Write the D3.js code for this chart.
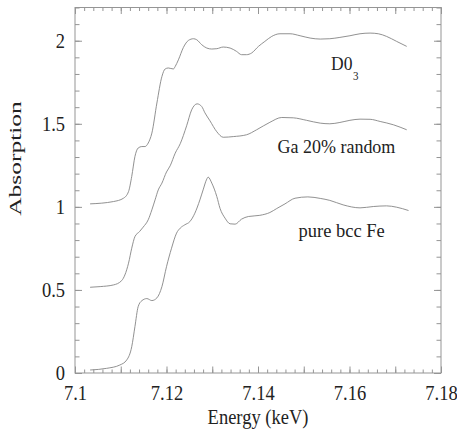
<!DOCTYPE html>
<html>
<head>
<meta charset="utf-8">
<script src="https://cdn.jsdelivr.net/npm/d3@7"></script>
<style>
  html, body { margin: 0; padding: 0; background: #fff; }
  svg { display: block; }
</style>
</head>
<body>
<svg id="chart" width="457" height="430"></svg>
<script>
// ==== DATA ====
const energyD03 = [7.1033, 7.1084, 7.1106, 7.1117, 7.1124, 7.1131, 7.1138, 7.1146, 7.1153, 7.1160,
  7.1168, 7.1179, 7.1190, 7.1197, 7.1204, 7.1215, 7.1219, 7.1226, 7.1237, 7.1248,
  7.1259, 7.1266, 7.1277, 7.1288, 7.1299, 7.1310, 7.1324, 7.1339, 7.1353, 7.1364,
  7.1375, 7.1386, 7.1401, 7.1415, 7.1430, 7.1448, 7.1470, 7.1492, 7.1514, 7.1536,
  7.1557, 7.1579, 7.1601, 7.1623, 7.1645, 7.1663, 7.1681, 7.1703, 7.1725];
const absD03 = [1.018, 1.032, 1.052, 1.092, 1.183, 1.303, 1.354, 1.363, 1.363, 1.384,
  1.444, 1.625, 1.785, 1.830, 1.836, 1.830, 1.845, 1.885, 1.960, 2.002,
  2.012, 2.006, 1.976, 1.956, 1.950, 1.952, 1.962, 1.956, 1.936, 1.916,
  1.916, 1.926, 1.966, 1.996, 2.026, 2.042, 2.042, 2.030, 2.016, 2.010,
  2.012, 2.020, 2.030, 2.042, 2.046, 2.042, 2.026, 1.996, 1.966];

const energyGa = [7.1033, 7.1055, 7.1084, 7.1102, 7.1109, 7.1117, 7.1124, 7.1131, 7.1141, 7.1149,
  7.1160, 7.1168, 7.1175, 7.1182, 7.1190, 7.1200, 7.1208, 7.1219, 7.1230, 7.1244,
  7.1255, 7.1267, 7.1277, 7.1284, 7.1295, 7.1310, 7.1324, 7.1346, 7.1375, 7.1397,
  7.1426, 7.1452, 7.1477, 7.1506, 7.1536, 7.1557, 7.1579, 7.1601, 7.1623, 7.1645,
  7.1667, 7.1696, 7.1725];
const absGa = [0.516, 0.520, 0.530, 0.556, 0.590, 0.661, 0.751, 0.821, 0.851, 0.878,
  0.922, 0.982, 1.042, 1.102, 1.143, 1.210, 1.247, 1.323, 1.380, 1.488,
  1.584, 1.620, 1.604, 1.566, 1.518, 1.452, 1.419, 1.423, 1.434, 1.464,
  1.509, 1.538, 1.536, 1.521, 1.504, 1.500, 1.508, 1.521, 1.528, 1.527,
  1.514, 1.494, 1.464];

const energyFe = [7.1033, 7.1069, 7.1098, 7.1113, 7.1124, 7.1131, 7.1138, 7.1146, 7.1157, 7.1168,
  7.1179, 7.1190, 7.1200, 7.1211, 7.1222, 7.1230, 7.1240, 7.1251, 7.1262, 7.1273,
  7.1280, 7.1288, 7.1291, 7.1299, 7.1310, 7.1317, 7.1328, 7.1339, 7.1350, 7.1364,
  7.1379, 7.1404, 7.1426, 7.1441, 7.1459, 7.1481, 7.1509, 7.1536, 7.1557, 7.1586,
  7.1623, 7.1652, 7.1681, 7.1703, 7.1729];
const absFe = [0.018, 0.028, 0.048, 0.078, 0.158, 0.279, 0.399, 0.435, 0.448, 0.436,
  0.452, 0.520, 0.640, 0.751, 0.842, 0.872, 0.892, 0.911, 0.962, 1.042,
  1.102, 1.167, 1.179, 1.143, 1.062, 0.991, 0.932, 0.898, 0.896, 0.926,
  0.942, 0.949, 0.966, 0.990, 1.018, 1.052, 1.060, 1.051, 1.039, 1.012,
  0.994, 1.002, 1.006, 0.998, 0.978];

const xTickLabels = [7.1, 7.12, 7.14, 7.16, 7.18];
const yTickLabels = [0, 0.5, 1, 1.5, 2];

// ==== LAYOUT ====
const FONT = '"Liberation Serif", "Times New Roman", serif';
const AXIS_COLOR = "#959595";
const LINE_COLOR = "#858585";
const TEXT_COLOR = "#222";
const TICK_FS = 18.5;   // tick label font size
const TICK_K = 1.15;    // the picture is a bit stretched vertically

const svg = d3.select("#chart");

const x = d3.scaleLinear().domain([7.1, 7.18]).range([75, 441]);
const y = d3.scaleLinear().domain([0, 2.2]).range([373, 7.5]);

const [x0, x1] = x.range();
const [y0, y1] = y.range();

// frame
svg.append("rect")
  .attr("x", x0).attr("y", y1)
  .attr("width", x1 - x0).attr("height", y0 - y1)
  .attr("fill", "none")
  .attr("stroke", AXIS_COLOR)
  .attr("stroke-width", 1);

function drawTicks(axisFn, scale, values, size, transform) {
  svg.append("g")
    .attr("transform", transform)
    .call(axisFn(scale).tickValues(values).tickSize(size).tickFormat(""))
    .call(g => g.select(".domain").remove())
    .call(g => g.selectAll("line").attr("stroke", AXIS_COLOR));
}

const xMinor = x.ticks(40), xMajor = x.ticks(8);
const yMinor = y.ticks(22), yMajor = y.ticks(4);

drawTicks(d3.axisBottom, x, xMinor, -3.5, `translate(0,${y0})`);
drawTicks(d3.axisBottom, x, xMajor, -6.5, `translate(0,${y0})`);
drawTicks(d3.axisTop, x, xMinor, -3.5, `translate(0,${y1})`);
drawTicks(d3.axisTop, x, xMajor, -6.5, `translate(0,${y1})`);
drawTicks(d3.axisLeft, y, yMinor, -4.5, `translate(${x0},0)`);
drawTicks(d3.axisLeft, y, yMajor, -7, `translate(${x0},0)`);
drawTicks(d3.axisRight, y, yMinor, -4.5, `translate(${x1},0)`);
drawTicks(d3.axisRight, y, yMajor, -7, `translate(${x1},0)`);

// tick labels
svg.append("g")
  .attr("transform", `translate(0,${y0})`)
  .call(d3.axisBottom(x).tickValues(xTickLabels).tickSize(0).tickFormat(d => String(d)))
  .call(g => g.select(".domain").remove())
  .call(g => g.selectAll("text")
    .style("font-family", FONT)
    .attr("font-size", TICK_FS)
    .attr("fill", TEXT_COLOR)
    .attr("dy", null)
    .attr("y", 27 / TICK_K)
    .attr("transform", `scale(1,${TICK_K})`));

svg.append("g")
  .attr("transform", `translate(${x0},0)`)
  .call(d3.axisLeft(y).tickValues(yTickLabels).tickSize(0).tickPadding(10).tickFormat(d => String(d)))
  .call(g => g.select(".domain").remove())
  .call(g => g.selectAll(".tick").each(function(d) {
    // undo the tick translate so the vertical stretch stays centred on the tick
    d3.select(this).attr("transform", null);
    d3.select(this).select("text")
      .style("font-family", FONT)
      .attr("font-size", TICK_FS)
      .attr("fill", TEXT_COLOR)
      .attr("dy", null)
      .attr("y", null)
      .attr("transform", `translate(0,${y(d) + 0.34 * TICK_FS * TICK_K}) scale(1,${TICK_K})`);
  }));

// axis titles
svg.append("text")
  .attr("transform", `translate(${(x0 + x1) / 2},424) scale(1,1.12)`)
  .attr("text-anchor", "middle")
  .style("font-family", FONT)
  .attr("font-size", 18.5)
  .attr("fill", TEXT_COLOR)
  .text("Energy (keV)");

svg.append("text")
  .attr("transform", "translate(21,158.5) scale(1,1.5) rotate(-90)")
  .attr("text-anchor", "middle")
  .style("font-family", FONT)
  .attr("font-size", 17)
  .attr("fill", TEXT_COLOR)
  .text("Absorption");

// ==== CURVES ====
const series = [
  { name: "D03", e: energyD03, a: absD03 },
  { name: "Ga", e: energyGa, a: absGa },
  { name: "Fe", e: energyFe, a: absFe }
];

const line = d3.line()
  .x(d => x(d[0]))
  .y(d => y(d[1]))
  .curve(d3.curveMonotoneX);

svg.append("g")
  .selectAll("path")
  .data(series)
  .join("path")
  .attr("d", s => line(s.e.map((e, i) => [e, s.a[i]])))
  .attr("fill", "none")
  .attr("stroke", LINE_COLOR)
  .attr("stroke-width", 0.9);

// ==== ANNOTATIONS ====
const ANN_K = 1.05;
function annotate(text, tx, ty, fs) {
  svg.append("text")
    .attr("transform", `translate(${tx},${ty}) scale(1,${ANN_K})`)
    .style("font-family", FONT)
    .attr("font-size", fs)
    .attr("fill", TEXT_COLOR)
    .text(text);
}

annotate("D0", 331, 70, 17.5);
annotate("3", 353, 80, 11);
annotate("Ga 20% random", 277.5, 153, 18);
annotate("pure bcc Fe", 298.5, 237, 18.5);
</script>
</body>
</html>
